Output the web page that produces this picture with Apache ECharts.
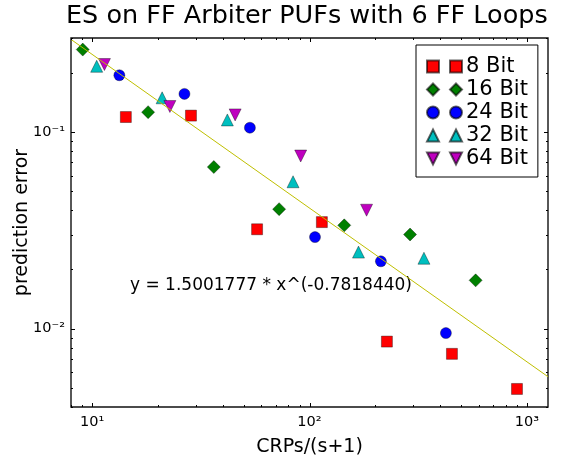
<!DOCTYPE html>
<html lang="en">
<head>
<meta charset="UTF-8">
<title>ES on FF Arbiter PUFs with 6 FF Loops</title>
<script src="https://cdn.jsdelivr.net/npm/echarts@6/dist/echarts.min.js"></script>
</head>
<body style="margin: 0">
<div id="chart" style="width: 576px; height: 462px;"></div>
<script>
// values (CRPs/(s+1) vs prediction error)
const bit8X = [14.3, 28.5, 57.4, 114, 227, 452, 900];
const bit8Y = [0.119, 0.121, 0.032, 0.0348, 0.0086, 0.00745, 0.00494];
const bit16X = [9.06, 18.1, 36.3, 72.5, 144.5, 290, 581];
const bit16Y = [0.262, 0.126, 0.0663, 0.0405, 0.0335, 0.0301, 0.0176];
const bit24X = [13.35, 26.6, 53.2, 106, 213, 424];
const bit24Y = [0.194, 0.156, 0.105, 0.0292, 0.022, 0.0095];
const bit32X = [10.5, 21, 41.9, 84, 168, 336];
const bit32Y = [0.2155, 0.149, 0.115, 0.0558, 0.0245, 0.0228];
const bit64X = [11.4, 22.8, 45.5, 91.1, 183];
const bit64Y = [0.22, 0.1346, 0.122, 0.0754, 0.040];

// fitted power law, endpoints at the plot edges
const fitX = [8, 1250];
const fitY = [0.295, 0.0057];
const fitText = 'y = 1.5001777 * x^(-0.7818440)';

const xMin = 8, xMax = 1250;
const yMin = 0.004, yMax = 0.3;
const xMajor = [10, 100, 1000];
const xMinor = [8, 9, 20, 30, 40, 50, 60, 70, 80, 90, 200, 300, 400, 500, 600, 700, 800, 900];
const yMajor = [0.01, 0.1];
const yMinor = [0.004, 0.005, 0.006, 0.007, 0.008, 0.009, 0.02, 0.03, 0.04, 0.05, 0.06, 0.07, 0.08, 0.09, 0.2, 0.3];

const zip = (xs, ys) => xs.map((x, i) => [x, ys[i]]);

const sup = { '-': '\u207b', '1': '\u00b9', '2': '\u00b2', '3': '\u00b3' };
function powLabel(v) {
    const e = Math.log10(v);
    if (Math.abs(e - Math.round(e)) > 1e-6) return '';
    return '10' + String(Math.round(e)).split('').map(c => sup[c]).join('');
}

const edge = { borderColor: 'rgba(0,0,0,0.6)', borderWidth: 0.6, opacity: 1 };

function xTick(params, api) {
    const cs = params.coordSys;
    const x = Math.round(api.coord([api.value(0), yMin])[0]) + 0.5;
    const len = api.value(2);
    const b = cs.y + cs.height, t = cs.y;
    return {
        type: 'group',
        children: [
            { type: 'line', shape: { x1: x, y1: b, x2: x, y2: b - len }, style: { stroke: '#000', lineWidth: 1 } },
            { type: 'line', shape: { x1: x, y1: t, x2: x, y2: t + len }, style: { stroke: '#000', lineWidth: 1 } }
        ]
    };
}
function yTick(params, api) {
    const cs = params.coordSys;
    const y = Math.round(api.coord([xMin, api.value(1)])[1]) + 0.5;
    const len = api.value(2);
    const l = cs.x, r = cs.x + cs.width;
    return {
        type: 'group',
        children: [
            { type: 'line', shape: { x1: l, y1: y, x2: l + len, y2: y }, style: { stroke: '#000', lineWidth: 1 } },
            { type: 'line', shape: { x1: r, y1: y, x2: r - len, y2: y }, style: { stroke: '#000', lineWidth: 1 } }
        ]
    };
}

const xTickData = xMajor.map(v => [v, yMin, 4]).concat(xMinor.map(v => [v, yMin, 2]));
const yTickData = yMajor.map(v => [xMin, v, 4]).concat(yMinor.map(v => [xMin, v, 2]));

const myChart = echarts.init(document.getElementById('chart'));

const option = {
    textStyle: { fontFamily: 'DejaVu Sans' },
    animation: false,
    title: {
        text: 'ES on FF Arbiter PUFs with 6 FF Loops',
        left: 66,
        top: 3,
        padding: 0,
        textStyle: { fontSize: 25.5, fontWeight: 'normal', color: '#000', fontFamily: 'DejaVu Sans' }
    },
    grid: {
        left: 71, right: 28, top: 38, bottom: 55,
        containLabel: false,
        outerBoundsMode: 'none',
        show: true, borderColor: '#111', borderWidth: 1.4, backgroundColor: '#fff'
    },
    legend: {
        orient: 'vertical',
        left: 416,
        top: 45,
        padding: [10, 10, 7, 10],
        itemGap: 0,
        itemWidth: 35,
        itemHeight: 12,
        backgroundColor: '#fff',
        borderColor: '#000',
        borderWidth: 1,
        borderRadius: 0,
        textStyle: { fontSize: 21, color: '#000', lineHeight: 23, padding: [0, 0, 0, -1] },
        data: [
            { name: '8 Bit', icon: 'path://M0,0h12v12h-12z M23,0h12v12h-12z' },
            { name: '16 Bit', icon: 'path://M6,0L12,6L6,12L0,6z M29,0L35,6L29,12L23,6z' },
            { name: '24 Bit', icon: 'path://M0,6a6,6 0 1,0 12,0a6,6 0 1,0 -12,0z M23,6a6,6 0 1,0 12,0a6,6 0 1,0 -12,0z' },
            { name: '32 Bit', icon: 'path://M6,0L12,12L0,12z M29,0L35,12L23,12z' },
            { name: '64 Bit', icon: 'path://M0,0L12,0L6,12z M23,0L35,0L29,12z' }
        ]
    },
    xAxis: {
        type: 'log',
        logBase: 10,
        min: xMin,
        max: xMax,
        name: 'CRPs/(s+1)',
        nameLocation: 'middle',
        nameGap: 31,
        nameMoveOverlap: false,
        nameTextStyle: { fontSize: 19, color: '#000' },
        axisLine: { show: false },
        axisTick: { show: false },
        splitLine: { show: false },
        axisLabel: { fontSize: 14.5, color: '#000', margin: 8, formatter: powLabel, showMinLabel: false, showMaxLabel: false }
    },
    yAxis: {
        type: 'log',
        logBase: 10,
        min: yMin,
        max: yMax,
        name: 'prediction error',
        nameLocation: 'middle',
        nameGap: 39,
        nameMoveOverlap: false,
        nameTextStyle: { fontSize: 19, color: '#000' },
        axisLine: { show: false },
        axisTick: { show: false },
        splitLine: { show: false },
        axisLabel: { fontSize: 14.5, color: '#000', margin: 6, formatter: powLabel, showMinLabel: false, showMaxLabel: false }
    },
    graphic: [{
        type: 'text',
        x: 130,
        y: 286,
        style: { text: fitText, fontSize: 17, fill: '#000', fontFamily: 'DejaVu Sans', verticalAlign: 'middle' }
    }],
    series: [
        { name: 'xticks', type: 'custom', renderItem: xTick, data: xTickData, clip: false, silent: true, z: 5 },
        { name: 'yticks', type: 'custom', renderItem: yTick, data: yTickData, clip: false, silent: true, z: 5 },
        {
            name: '8 Bit', type: 'scatter', symbol: 'rect', symbolSize: 11,
            itemStyle: Object.assign({ color: '#ff0000' }, edge), data: zip(bit8X, bit8Y)
        },
        {
            name: '16 Bit', type: 'scatter', symbol: 'diamond', symbolSize: 13,
            itemStyle: Object.assign({ color: '#008000' }, edge), data: zip(bit16X, bit16Y)
        },
        {
            name: '24 Bit', type: 'scatter', symbol: 'circle', symbolSize: 11,
            itemStyle: Object.assign({ color: '#0000ff' }, edge), data: zip(bit24X, bit24Y)
        },
        {
            name: '32 Bit', type: 'scatter', symbol: 'triangle', symbolSize: 12,
            itemStyle: Object.assign({ color: '#00bfbf' }, edge), data: zip(bit32X, bit32Y)
        },
        {
            name: '64 Bit', type: 'scatter', symbol: 'triangle', symbolRotate: 180, symbolSize: 12,
            itemStyle: Object.assign({ color: '#bf00bf' }, edge), data: zip(bit64X, bit64Y)
        },
        {
            name: 'fit', type: 'line', showSymbol: false, silent: true,
            lineStyle: { color: '#bfbf00', width: 1 }, data: zip(fitX, fitY)
        }
    ]
};

myChart.setOption(option);
</script>
</body>
</html>
